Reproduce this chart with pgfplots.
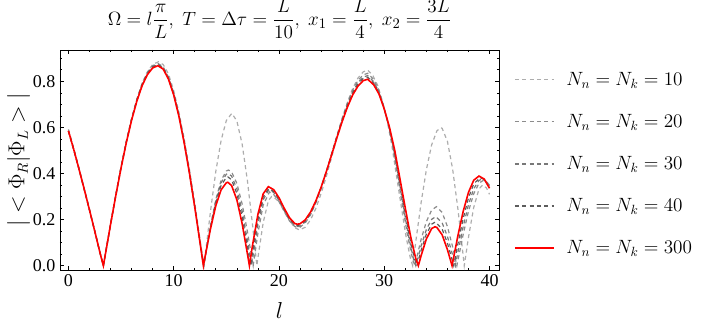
\documentclass[border=0pt]{standalone}
\usepackage{fontspec}
\setmainfont{Liberation Serif}
\usepackage{pgfplots}
\pgfplotsset{compat=1.18}
\definecolor{gten}{gray}{0.68}
\definecolor{gtwenty}{gray}{0.55}
\definecolor{gthirty}{gray}{0.47}
\definecolor{gforty}{gray}{0.36}
\definecolor{mred}{HTML}{FF0000}

\begin{document}
\begin{tikzpicture}
\path[use as bounding box] (-45pt,-44.25pt) rectangle (491.25pt,202.5pt);
\begin{axis}[
  scale only axis, width=329.25pt, height=165pt,
  xmin=-0.8, xmax=40.9, ymin=-0.0187, ymax=0.936,
  xtick={0,10,20,30,40}, minor xtick={2,4,...,38},
  ytick={0,0.2,0.4,0.6,0.8}, minor ytick={0.05,0.1,...,0.9},
  tick align=inside, major tick length=3pt, minor tick length=1.6pt,
  tick style={black, line width=0.5pt},
  axis line style={line width=0.6pt},
  /pgf/number format/assume math mode=true,
  ticklabel style={font=\fontsize{13.5}{14}\selectfont},
  yticklabel style={/pgf/number format/fixed, /pgf/number format/fixed zerofill,
                    /pgf/number format/precision=1},
  title={$\displaystyle \Omega=l\frac{\pi}{L},\ T=\Delta\tau=\frac{L}{10},\ x_1=\frac{L}{4},\ x_2=\frac{3L}{4}$},
  title style={font=\fontsize{15.8}{18}\selectfont, inner sep=0pt,
               at={(axis description cs:0.5,1.106)}, anchor=center},
  xlabel={$l$},
  xlabel style={font=\fontsize{17}{17}\selectfont, at={(axis description cs:0.5,-0.186)}, anchor=center},
  ylabel={$|<\Phi_R|\Phi_L>|$},
  ylabel style={font=\fontsize{16}{16}\selectfont, at={(axis description cs:-0.094,0.5)}, anchor=center},
  legend image code/.code={\draw[#1] (0pt,0pt) -- (29pt,0pt);},
  legend cell align=left,
  legend style={at={(axis description cs:1.034,0.912)}, anchor=north west,
                draw=none, fill=none, inner sep=0pt, row sep=16.2pt,
                font=\fontsize{14.8}{17}\selectfont,
                nodes={inner ysep=2pt, inner xsep=9pt}},
]
\addplot[gten, line width=0.9pt, dash pattern=on 3pt off 2.5pt] coordinates {
(0,0.592)(0.5,0.511)(1,0.425)(1.5,0.336)(2,0.245)(2.5,0.152)(3,0.057)(3.32,0)
(3.5,0.048)(4,0.180)(4.5,0.307)(5,0.428)(5.5,0.539)(6,0.638)(6.5,0.722)(7,0.791)(7.5,0.841)(8,0.873)(8.55,0.885)(9,0.873)(9.5,0.833)(10,0.760)(10.5,0.665)(11,0.550)(11.5,0.418)(12,0.272)(12.5,0.115)(12.88,0)
(13,0.047)(13.5,0.238)(14,0.409)(14.5,0.543)(15,0.630)(15.52,0.661)(16,0.628)(16.5,0.528)(17,0.370)(17.5,0.172)(17.9,0)
(18,0.034)(18.5,0.187)(19,0.283)(19.3,0.300)(19.5,0.298)(20,0.277)(20.5,0.238)(21,0.196)(21.5,0.165)(21.95,0.155)
(22.5,0.167)(23,0.199)(23.5,0.248)(24,0.313)(24.5,0.388)(25,0.470)(25.5,0.554)(26,0.635)(26.5,0.708)(27,0.769)(27.5,0.814)(28,0.841)(28.43,0.849)
(28.93,0.824)(29.38,0.782)(29.82,0.714)(30.27,0.630)(30.71,0.525)(31.15,0.394)(31.60,0.262)(32.04,0.134)(32.49,0.031)(32.7,0)
(33,0.106)(33.5,0.273)(34,0.416)(34.5,0.524)(35,0.585)(35.36,0.599)(35.5,0.596)(36,0.540)(36.5,0.418)(37,0.245)(37.5,0.042)(37.6,0)
(38,0.123)(38.5,0.253)(39,0.333)(39.35,0.350)(39.7,0.338)(40,0.310)};
\addplot[gtwenty, line width=0.9pt, dash pattern=on 3pt off 2.5pt] coordinates {
(0,0.585)(0.5,0.505)(1,0.420)(1.5,0.332)(2,0.242)(2.5,0.150)(3,0.056)(3.32,0)
(3.5,0.048)(4,0.180)(4.5,0.307)(5,0.429)(5.5,0.540)(6,0.638)(6.5,0.722)(7,0.790)(7.5,0.839)(8,0.868)(8.5,0.878)(9,0.863)(9.5,0.819)(10,0.750)(10.5,0.655)(11,0.539)(11.5,0.406)(12,0.259)(12.5,0.104)(12.86,0)
(13,0.039)(13.5,0.173)(14,0.287)(14.5,0.370)(15,0.411)(15.2,0.415)(15.5,0.407)(16,0.357)(16.5,0.268)(17,0.149)(17.55,0)
(18,0.141)(18.5,0.263)(19.1,0.320)(19.5,0.309)(20,0.278)(20.5,0.235)(21,0.194)(21.5,0.170)(21.85,0.165)
(22,0.167)(22.5,0.186)(23,0.221)(23.5,0.273)(24,0.336)(24.5,0.408)(25,0.486)(25.5,0.564)(26,0.639)(26.5,0.706)(27,0.762)(27.5,0.804)(28,0.828)(28.43,0.835)
(28.96,0.810)(29.42,0.769)(29.89,0.702)(30.35,0.620)(30.82,0.516)(31.28,0.387)(31.75,0.258)(32.21,0.132)(32.68,0.031)(32.9,0)
(33.5,0.114)(34,0.191)(34.5,0.241)(34.95,0.256)(35.5,0.231)(36,0.170)(36.5,0.081)(36.9,0)
(37.5,0.136)(38,0.236)(38.5,0.312)(39,0.358)(39.4,0.370)(39.7,0.365)(40,0.350)};
\addplot[gthirty, line width=0.9pt, dash pattern=on 3pt off 2.5pt] coordinates {
(0,0.585)(0.5,0.505)(1,0.420)(1.5,0.332)(2,0.242)(2.5,0.150)(3,0.056)(3.32,0)
(3.5,0.047)(4,0.179)(4.5,0.306)(5,0.427)(5.5,0.538)(6,0.636)(6.5,0.720)(7,0.787)(7.5,0.836)(8,0.865)(8.5,0.875)(9,0.860)(9.5,0.816)(10,0.747)(10.5,0.652)(11,0.537)(11.5,0.404)(12,0.257)(12.5,0.103)(12.85,0)
(13,0.040)(13.5,0.170)(14,0.281)(14.5,0.360)(15,0.397)(15.17,0.400)(15.5,0.389)(16,0.334)(16.5,0.237)(17,0.111)(17.4,0)
(17.5,0.031)(18,0.178)(18.5,0.286)(19.05,0.330)(19.5,0.318)(20,0.284)(20.5,0.240)(21,0.199)(21.5,0.174)(21.8,0.170)
(22,0.172)(22.5,0.190)(23,0.225)(23.5,0.275)(24,0.337)(24.5,0.408)(25,0.484)(25.5,0.560)(26,0.633)(26.5,0.699)(27,0.754)(27.5,0.794)(28,0.818)(28.43,0.825)
(28.97,0.800)(29.44,0.760)(29.92,0.694)(30.40,0.612)(30.87,0.510)(31.35,0.383)(31.82,0.255)(32.30,0.130)(32.77,0.031)(33.0,0)
(33.5,0.086)(34,0.157)(34.5,0.201)(34.9,0.213)(35.5,0.186)(36,0.127)(36.5,0.045)(36.75,0)
(37,0.059)(37.5,0.170)(38,0.265)(38.5,0.334)(39,0.370)(39.25,0.375)(39.6,0.368)(40,0.345)};
\addplot[gforty, line width=0.9pt, dash pattern=on 3pt off 2.5pt] coordinates {
(0,0.585)(0.5,0.505)(1,0.420)(1.5,0.332)(2,0.242)(2.5,0.150)(3,0.056)(3.32,0)
(3.5,0.047)(4,0.179)(4.5,0.305)(5,0.426)(5.5,0.536)(6,0.634)(6.5,0.717)(7,0.785)(7.5,0.833)(8,0.862)(8.5,0.872)(9,0.857)(9.5,0.814)(10,0.744)(10.5,0.650)(11,0.534)(11.5,0.402)(12,0.256)(12.5,0.101)(12.84,0)
(13,0.042)(13.5,0.167)(14,0.273)(14.5,0.348)(15,0.383)(15.15,0.385)(15.5,0.373)(16,0.313)(16.5,0.212)(17,0.084)(17.3,0)
(17.5,0.061)(18,0.200)(18.5,0.298)(19.02,0.335)(19.5,0.322)(20,0.289)(20.5,0.244)(21,0.203)(21.5,0.179)(21.78,0.175)
(22,0.177)(22.5,0.195)(23,0.229)(23.5,0.278)(24,0.339)(24.5,0.408)(25,0.483)(25.5,0.558)(26,0.630)(26.5,0.695)(27,0.748)(27.5,0.788)(28,0.812)(28.43,0.818)
(28.98,0.793)(29.47,0.753)(29.95,0.688)(30.44,0.607)(30.92,0.506)(31.41,0.380)(31.89,0.253)(32.38,0.129)(32.87,0.030)(33.1,0)
(33.5,0.066)(34,0.137)(34.5,0.180)(34.86,0.190)(35.5,0.159)(36,0.098)(36.5,0.017)(36.6,0)
(37,0.095)(37.5,0.205)(38,0.294)(38.5,0.355)(39.1,0.382)(39.5,0.374)(40,0.340)};
\addplot[mred, line width=1.2pt] coordinates {
(0,0.585)(0.5,0.505)(1,0.420)(1.5,0.332)(2,0.242)(2.5,0.150)(3,0.056)(3.32,0)
(3.5,0.047)(4,0.178)(4.5,0.304)(5,0.424)(5.5,0.534)(6,0.631)(6.5,0.714)(7,0.781)(7.5,0.829)(8,0.858)(8.5,0.868)(9,0.853)(9.5,0.810)(10,0.741)(10.5,0.647)(11,0.532)(11.5,0.400)(12,0.254)(12.5,0.100)(12.82,0)
(13,0.044)(13.5,0.161)(14,0.260)(14.5,0.329)(15,0.360)(15.14,0.362)(15.5,0.348)(16,0.286)(16.5,0.183)(17,0.052)(17.19,0)
(17.5,0.092)(18,0.223)(18.5,0.312)(18.99,0.343)(19.5,0.330)(20,0.295)(20.5,0.249)(21,0.208)(21.5,0.183)(21.75,0.180)
(22,0.182)(22.5,0.199)(23,0.233)(23.5,0.281)(24,0.340)(24.5,0.408)(25,0.481)(25.5,0.555)(26,0.625)(26.5,0.688)(27,0.741)(27.5,0.779)(28,0.803)(28.43,0.809)
(29,0.785)(29.5,0.745)(30,0.680)(30.5,0.600)(31,0.500)(31.5,0.375)(32,0.250)(32.5,0.128)(33,0.030)(33.24,0)
(33.5,0.043)(34,0.116)(34.5,0.161)(34.82,0.169)(35,0.166)(35.5,0.134)(36,0.070)(36.44,0)
(36.5,0.014)(37,0.131)(37.5,0.236)(38,0.318)(38.5,0.371)(39,0.389)(39.5,0.376)(40,0.336)};
\legend{$N_n=N_k=10$,$N_n=N_k=20$,$N_n=N_k=30$,$N_n=N_k=40$,$N_n=N_k=300$}
\end{axis}
\end{tikzpicture}
\end{document}
